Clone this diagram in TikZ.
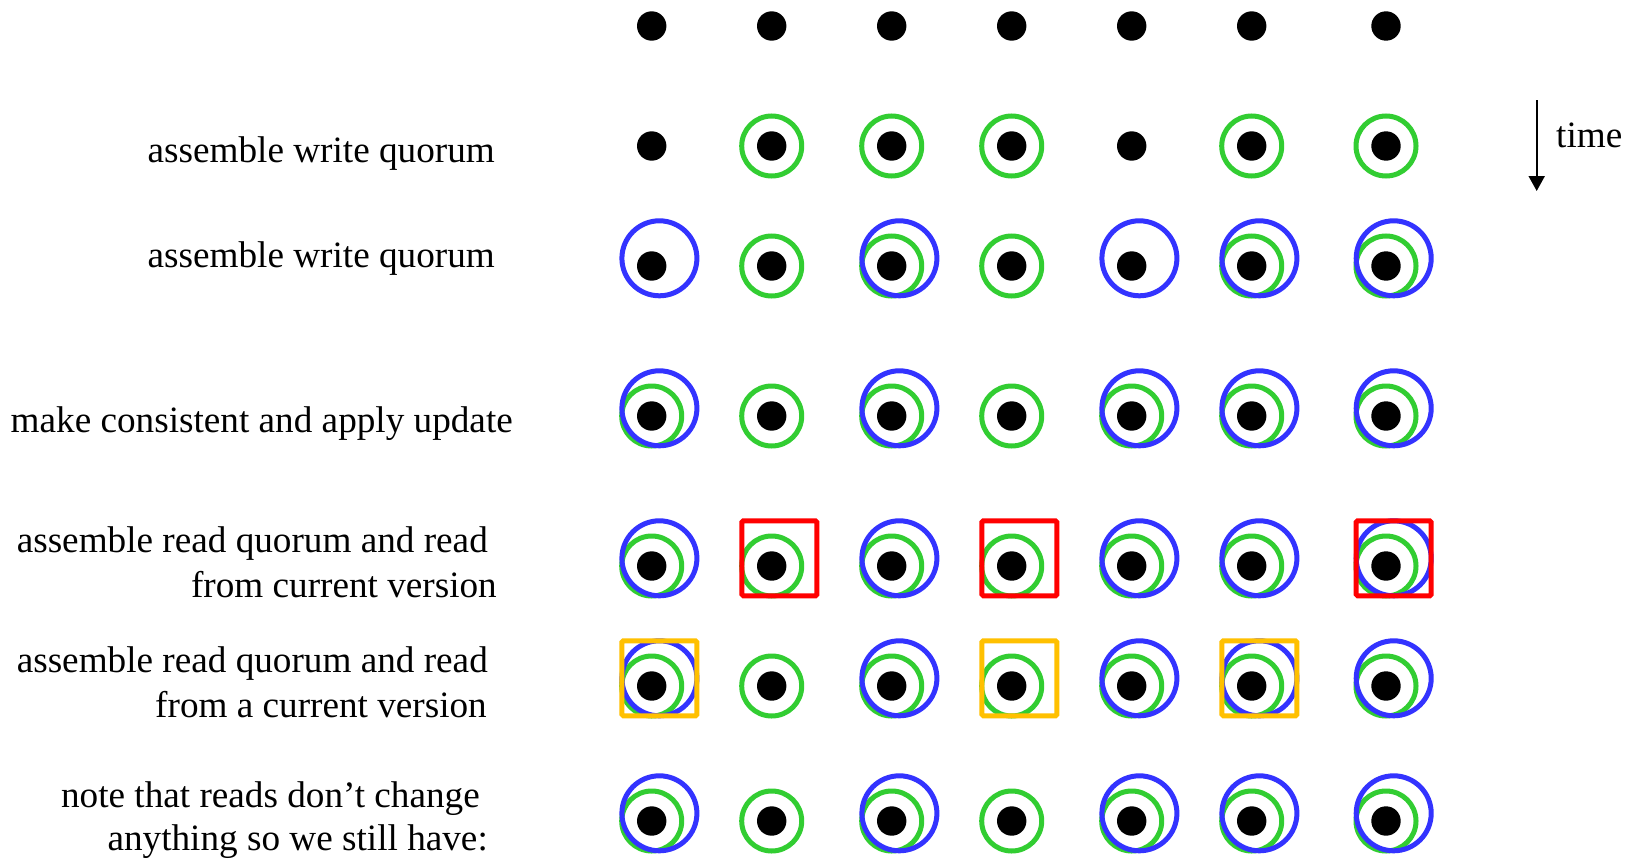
\documentclass[tikz,border=0pt]{standalone}
\usepackage{fontspec}
\setmainfont{Liberation Serif}
\usetikzlibrary{arrows.meta}

\definecolor{ringgreen}{RGB}{50,205,50}
\definecolor{haloblue}{RGB}{51,51,255}
\definecolor{readred}{RGB}{255,0,0}
\definecolor{readgold}{RGB}{255,192,0}

\tikzset{
  dotnode/.style={circle, fill=black, inner sep=0pt, minimum size=29.4pt},
  greenring/.style={draw=ringgreen, line width=5pt},
  bluering/.style={draw=haloblue, line width=5pt},
  redbox/.style={draw=readred, line width=5pt, rounded corners=1.5pt},
  goldbox/.style={draw=readgold, line width=5pt, rounded corners=1.5pt},
  lbl/.style={inner sep=0pt, anchor=base east, font=\fontsize{37.2}{44}\selectfont},
}

\begin{document}
\begin{tikzpicture}[x=1pt, y=-1pt]
  \useasboundingbox[fill=white] (0,0) rectangle (1633,859);

  % replicas, one row per step
  \foreach \y [count=\r] in {26,146,266,416,566,686,821} {
    \foreach \x [count=\c] in {651.7,771.7,891.7,1011.7,1131.7,1251.7,1386} {
      \node[dotnode] (r\r c\c) at (\x,\y) {};
    }
  }

  % write quorum members (green)
  \foreach \c in {2,3,4,6,7} {
    \draw[greenring] (r2c\c.center) circle[radius=30pt];
    \draw[greenring] (r3c\c.center) circle[radius=30pt];
  }
  \foreach \r in {4,5,6,7} {
    \foreach \c in {1,...,7} {
      \draw[greenring] (r\r c\c.center) circle[radius=30pt];
    }
  }

  % second write quorum (blue)
  \foreach \r in {3,4,5,6,7} {
    \foreach \c in {1,3,5,6,7} {
      \draw[bluering] ([shift={(7.7pt,7.7pt)}]r\r c\c.center) circle[radius=37.5pt];
    }
  }

  % read quorums
  \foreach \c in {2,4,7} {
    \draw[redbox] ([shift={(7.7pt,7.7pt)}]r5c\c.center) +(-37.5pt,-37.5pt) rectangle +(37.5pt,37.5pt);
  }
  \foreach \c in {1,4,6} {
    \draw[goldbox] ([shift={(7.7pt,7.7pt)}]r6c\c.center) +(-37.5pt,-37.5pt) rectangle +(37.5pt,37.5pt);
  }

  % time axis
  \coordinate (tstart) at (1536.7,100);
  \coordinate (tend) at (1536.7,191);
  \draw[line width=2pt, -{Triangle[width=16pt,length=15pt]}] (tstart) -- (tend);
  \node[lbl, anchor=base west] (tlabel) at (1556,147) {time};

  % step labels
  \node[lbl] (l2) at (495,162) {assemble write quorum};
  \node[lbl] (l3) at (495,267) {assemble write quorum};
  \node[lbl] (l4) at (513,432) {make consistent and apply update};
  \node[lbl] (l5a) at (488,552) {assemble read quorum and read};
  \node[lbl] (l5b) at (497,597) {from current version};
  \node[lbl] (l6a) at (488,672) {assemble read quorum and read};
  \node[lbl] (l6b) at (487,717) {from a current version};
  \node[lbl] (l7a) at (480,807) {note that reads don’t change};
  \node[lbl] (l7b) at (488,850) {anything so we still have:};
\end{tikzpicture}
\end{document}
